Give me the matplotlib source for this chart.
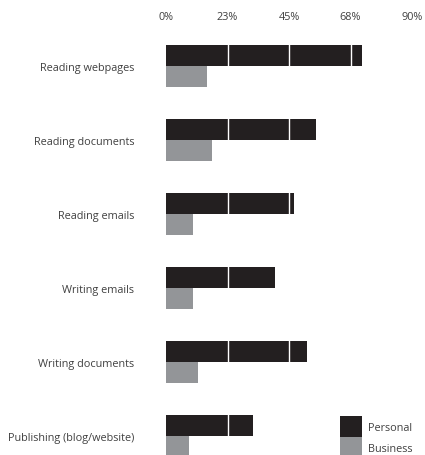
import matplotlib
matplotlib.use('Agg')
import matplotlib.pyplot as plt
import numpy as np

CATEGORIES = ['Reading webpages', 'Reading documents', 'Reading emails',
              'Writing emails', 'Writing documents', 'Publishing (blog/website)']
PERSONAL = [71.7, 54.9, 46.8, 39.9, 51.6, 31.7]
BUSINESS = [14.9, 16.8, 9.9, 9.9, 11.7, 8.4]
TICKS = [0, 22.5, 45, 67.5, 90]
TICK_LABELS = ['0%', '23%', '45%', '68%', '90%']

DARK = '#231f20'
GREY = '#939598'
TEXT = '#404040'


def main():
    plt.rcParams['font.family'] = ['Open Sans', 'DejaVu Sans']
    fig = plt.figure(figsize=(4.25, 4.56), dpi=100)
    ax = fig.add_axes([166 / 425, 0, 246 / 425, (456 - 40) / 456])

    y = np.arange(len(CATEGORIES))
    h = 0.285
    ax.barh(y - h / 2, PERSONAL, height=h, color=DARK, label='Personal', zorder=2)
    ax.barh(y + h / 2, BUSINESS, height=h, color=GREY, label='Business', zorder=2)

    # white grid lines drawn on top of the bars
    for t in TICKS[1:-1]:
        ax.axvline(t, color='white', lw=1.0, zorder=3)

    ax.set_xlim(0, 90)
    ax.set_ylim(5.257, -0.365)
    ax.xaxis.tick_top()
    ax.set_xticks(TICKS)
    ax.set_xticklabels(TICK_LABELS)
    ax.set_yticks(y)
    ax.set_yticklabels(CATEGORIES)
    ax.tick_params(axis='x', length=0, pad=12, labelsize=7.8, labelcolor=TEXT)
    ax.tick_params(axis='y', length=0, pad=23, labelsize=7.8, labelcolor=TEXT)
    for s in ax.spines.values():
        s.set_visible(False)

    ax.legend(loc='upper left', bbox_to_anchor=(340 / 425, 1 - 417 / 456),
              bbox_transform=fig.transFigure, frameon=False, borderpad=0,
              borderaxespad=0, handletextpad=0.6, labelspacing=0,
              handlelength=2.0, handleheight=2.6, fontsize=7.8, labelcolor=TEXT)

    fig.savefig('out.png', dpi=100)


if __name__ == '__main__':
    main()
